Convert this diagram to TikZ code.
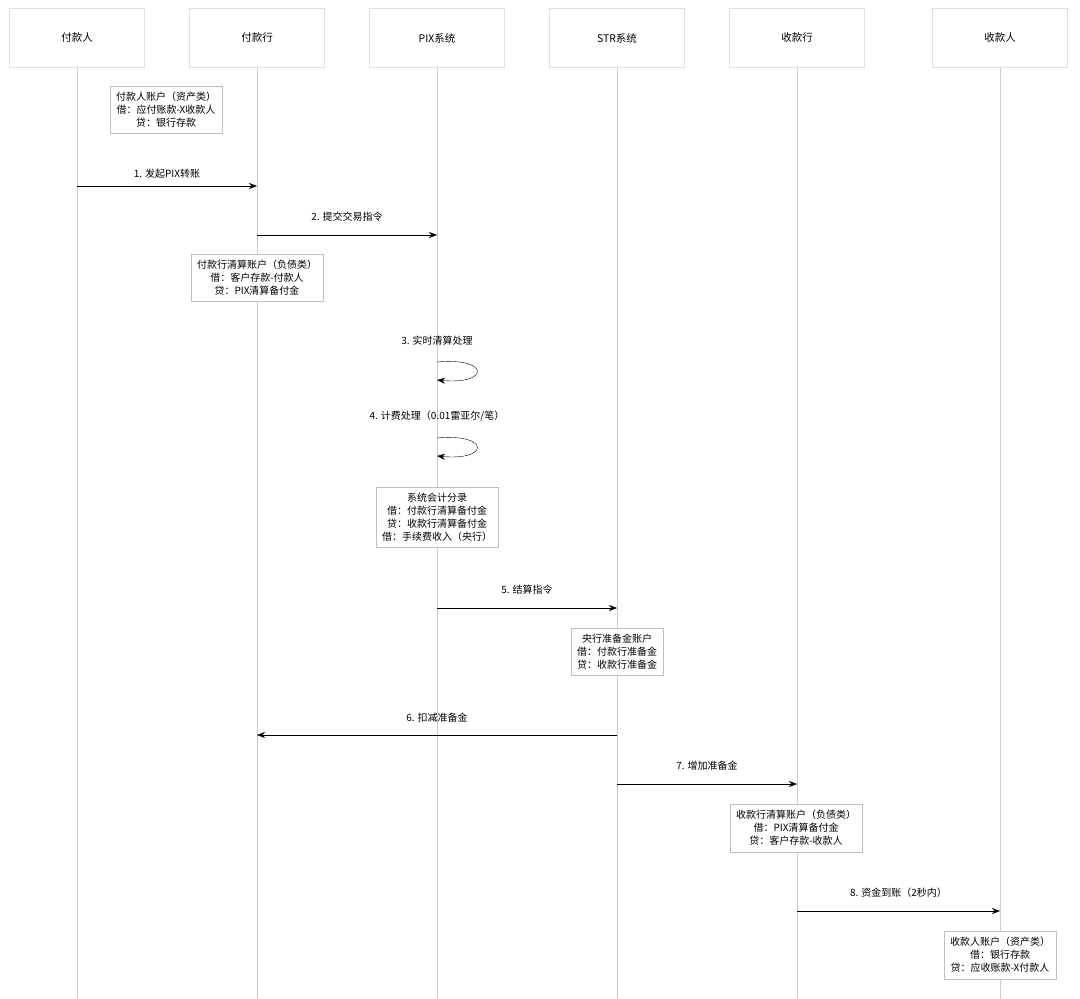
\documentclass[tikz,border=0pt]{standalone}
\usepackage{fontspec}
\setmainfont{Noto Sans CJK SC}
\usetikzlibrary{arrows.meta}

\tikzset{
    actor/.style={draw=black!12, fill=white, minimum width=135pt, minimum height=59pt, font=\fontsize{10.5pt}{12pt}\selectfont},
    note/.style={draw=black!25, fill=white, align=center, inner sep=6pt, font=\fontsize{10pt}{13pt}\selectfont},
    msg/.style={-{Stealth[length=8pt,width=6pt]}, thin},
    lbl/.style={font=\fontsize{10pt}{12pt}\selectfont},
    life/.style={black!20, thin}
}

\begin{document}
\begin{tikzpicture}[x=1pt, y=-1pt]
    \useasboundingbox (0,0) rectangle (1080,999);
    % participants
    \node [actor] (payer) at (77,38) {付款人};
    \node [actor] (pbank) at (257,38) {付款行};
    \node [actor] (pix) at (437,38) {PIX系统};
    \node [actor] (str) at (617,38) {STR系统};
    \node [actor] (rbank) at (797,38) {收款行};
    \node [actor] (payee) at (1000,38) {收款人};
    \foreach \p/\x in {payer/77, pbank/257, pix/437, str/617, rbank/797, payee/1000} {
        \coordinate (\p-end) at (\x,999);
        \draw [life] (\p.south) -- (\p-end);
    }
    % notes and messages
    \node [note] (n1) at (166,110) {付款人账户（资产类）\\借：应付账款-X收款人\\贷：银行存款};
    \coordinate (a1s) at (77,186); \coordinate (a1e) at (257,186);
    \draw [msg] (a1s) -- node [lbl, above=4pt] {1. 发起PIX转账} (a1e);
    \coordinate (a2s) at (257,235); \coordinate (a2e) at (437,235);
    \draw [msg] (a2s) -- node [lbl, above=10pt] {2. 提交交易指令} (a2e);
    \node [note] (n2) at (257,278) {付款行清算账户（负债类）\\借：客户存款-付款人\\贷：PIX清算备付金};
    \coordinate (s3) at (437,362); \coordinate (s3e) at (437,380);
    \node [lbl] (l3) at (437,341) {3. 实时清算处理};
    \draw [msg] (s3) .. controls (490,357) and (490,385) .. (s3e);
    \coordinate (s4) at (437,438); \coordinate (s4e) at (437,456);
    \node [lbl] (l4) at (437,416) {4. 计费处理（0.01雷亚尔/笔）};
    \draw [msg] (s4) .. controls (490,433) and (490,461) .. (s4e);
    \node [note] (n3) at (437,517) {系统会计分录\\借：付款行清算备付金\\贷：收款行清算备付金\\借：手续费收入（央行）};
    \coordinate (a5s) at (437,608); \coordinate (a5e) at (617,608);
    \draw [msg] (a5s) -- node [lbl, above=10pt] {5. 结算指令} (a5e);
    \node [note] (n4) at (617,652) {央行准备金账户\\借：付款行准备金\\贷：收款行准备金};
    \coordinate (a6s) at (617,735); \coordinate (a6e) at (257,735);
    \draw [msg] (a6s) -- node [lbl, above=9pt] {6. 扣减准备金} (a6e);
    \coordinate (a7s) at (617,784); \coordinate (a7e) at (797,784);
    \draw [msg] (a7s) -- node [lbl, above=10pt] {7. 增加准备金} (a7e);
    \node [note] (n5) at (796,828) {收款行清算账户（负债类）\\借：PIX清算备付金\\贷：客户存款-收款人};
    \coordinate (a8s) at (797,911); \coordinate (a8e) at (1000,911);
    \draw [msg] (a8s) -- node [lbl, above=10pt] {8. 资金到账（2秒内）} (a8e);
    \node [note] (n6) at (1000,955) {收款人账户（资产类）\\借：银行存款\\贷：应收账款-X付款人};
\end{tikzpicture}
\end{document}
